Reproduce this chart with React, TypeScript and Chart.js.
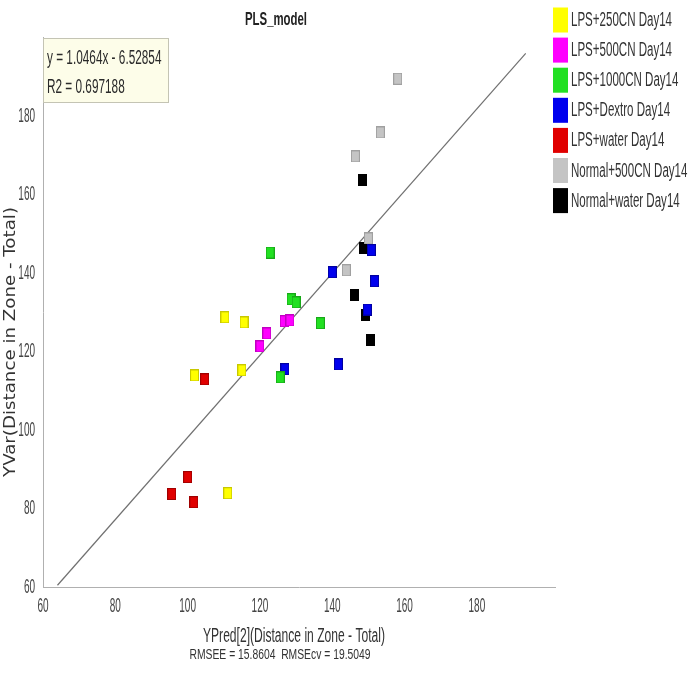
import React, { useEffect, useRef } from "react";
import { Chart, registerables } from "chart.js";

Chart.register(...registerables);

const groupNames = [
  "LPS+250CN Day14",
  "LPS+500CN Day14",
  "LPS+1000CN Day14",
  "LPS+Dextro Day14",
  "LPS+water Day14",
  "Normal+500CN Day14",
  "Normal+water Day14",
];
const groupColors = ["#ffff00", "#ff00ff", "#22e022", "#0000ee", "#e00000", "#c4c4c4", "#000000"];
const groupBorders = ["#c8c800", "#c000c0", "#18a818", "#0000a0", "#a00000", "#a0a0a0", "#000000"];

const predLPS250 = [110.3, 115.6, 101.9, 115.0, 111.1];
const yvarLPS250 = [128.7, 127.4, 113.9, 115.2, 83.9];
const predLPS500 = [121.9, 120.0, 126.7, 128.3];
const yvarLPS500 = [124.6, 121.3, 127.7, 127.9];
const predLPS1000 = [122.8, 128.6, 130.0, 136.7, 125.6];
const yvarLPS1000 = [145.2, 133.3, 132.5, 127.2, 113.4];
const predDextro = [140.0, 150.8, 151.7, 149.7, 141.7, 126.9];
const yvarDextro = [140.2, 145.8, 137.9, 130.7, 116.7, 115.5];
const predWater = [104.7, 100.0, 95.6, 101.7];
const yvarWater = [112.9, 88.0, 83.7, 81.6];
const predNorm500 = [158.1, 153.3, 146.4, 150.0, 143.9];
const yvarNorm500 = [189.5, 175.8, 169.7, 148.8, 140.7];
const predNormWater = [148.3, 148.6, 146.1, 149.2, 150.6];
const yvarNormWater = [163.8, 146.3, 134.3, 129.2, 122.9];

const groupPred = [predLPS250, predLPS500, predLPS1000, predDextro, predWater, predNorm500, predNormWater];
const groupYvar = [yvarLPS250, yvarLPS500, yvarLPS1000, yvarDextro, yvarWater, yvarNorm500, yvarNormWater];

const slope = 1.0464;
const intercept = -6.52854;
const fitRange = [64, 193.5];

const majorTicks = [60, 80, 100, 120, 140, 160, 180];

const titleText = "PLS_model";
const equationLines = ["y = 1.0464x - 6.52854", "R2 = 0.697188"];
const xTitle = "YPred[2](Distance in Zone - Total)";
const yTitle = "YVar(Distance in Zone - Total)";
const footText = "RMSEE = 15.8604  RMSEcv = 19.5049";

const SANS = '"Liberation Sans", Arial, sans-serif';

function drawText(
  ctx: CanvasRenderingContext2D,
  text: string,
  x: number,
  y: number,
  font: string,
  opts: { scaleX?: number; width?: number; align?: "left" | "center" | "right"; color?: string }
) {
  ctx.save();
  ctx.font = font;
  ctx.fillStyle = opts.color || "#333";
  ctx.textBaseline = "middle";
  ctx.textAlign = "left";
  const w = ctx.measureText(text).width;
  const sx = opts.width ? opts.width / w : opts.scaleX || 1;
  const drawnW = w * sx;
  let left = x;
  if (opts.align === "center") left = x - drawnW / 2;
  else if (opts.align === "right") left = x - drawnW;
  ctx.translate(left, y);
  ctx.scale(sx, 1);
  ctx.fillText(text, 0, 0);
  ctx.restore();
}

function makeMarker(fill: string, border: string) {
  const c = document.createElement("canvas");
  c.width = 9;
  c.height = 12;
  const g = c.getContext("2d")!;
  g.fillStyle = border;
  g.fillRect(0, 0, 9, 12);
  g.fillStyle = fill;
  g.fillRect(1, 1, 7, 10);
  return c;
}

const textPlugin = {
  id: "textPlugin",
  afterDraw(chart: any) {
    const ctx: CanvasRenderingContext2D = chart.ctx;
    const xs = chart.scales.x;
    const ys = chart.scales.y;
    ctx.save();
    // tick labels
    majorTicks.forEach((v) => {
      drawText(ctx, String(v), xs.getPixelForValue(v), 606, "20px " + SANS, { scaleX: 0.5, align: "center", color: "#444" });
      drawText(ctx, String(v), 35, ys.getPixelForValue(v), "20px " + SANS, { scaleX: 0.5, align: "right", color: "#444" });
    });
    // title
    drawText(ctx, titleText, 276, 20, "bold 18px " + SANS, { width: 62, align: "center", color: "#222" });
    // equation box
    ctx.fillStyle = "#fdfde9";
    ctx.fillRect(43, 38, 125, 64);
    ctx.strokeStyle = "#c4c4b4";
    ctx.lineWidth = 1;
    ctx.strokeRect(43.5, 38.5, 125, 64);
    drawText(ctx, equationLines[0], 47, 58, "20px " + SANS, { scaleX: 0.59, color: "#2a2a2a" });
    drawText(ctx, equationLines[1], 47, 87, "20px " + SANS, { scaleX: 0.59, color: "#2a2a2a" });
    // legend
    groupNames.forEach((name, i) => {
      const y0 = 7.5 + i * 30.1;
      ctx.fillStyle = groupColors[i];
      ctx.fillRect(553, y0, 15, 25);
      drawText(ctx, name, 571, y0 + 13, "20px " + SANS, { scaleX: 0.577, color: "#333" });
    });
    // axis titles
    drawText(ctx, xTitle, 294, 636, "20px " + SANS, { width: 182, align: "center", color: "#333" });
    drawText(ctx, footText, 280, 655, "14px " + SANS, { width: 181, align: "center", color: "#333" });
    ctx.save();
    ctx.translate(11, 342);
    ctx.rotate(-Math.PI / 2);
    drawText(ctx, yTitle, 0, 0, '16px "DejaVu Sans", Verdana, sans-serif', { width: 270, align: "center", color: "#333" });
    ctx.restore();
    ctx.restore();
  },
};

export default function App() {
  const ref = useRef<HTMLCanvasElement>(null);
  useEffect(() => {
    document.body.style.margin = "0";
    const datasets: any[] = groupNames.map((name, i) => ({
      type: "scatter",
      label: name,
      data: groupPred[i].map((x, j) => ({ x, y: groupYvar[i][j] })),
      pointStyle: makeMarker(groupColors[i], groupBorders[i]),
      backgroundColor: groupColors[i],
      borderColor: groupBorders[i],
      order: 1,
    }));
    datasets.push({
      type: "line",
      label: "fit",
      data: fitRange.map((x) => ({ x, y: slope * x + intercept })),
      borderColor: "#707070",
      borderWidth: 1.2,
      pointRadius: 0,
      fill: false,
      order: 2,
    });
    const chart = new Chart(ref.current!, {
      type: "scatter",
      data: { datasets },
      options: {
        animation: false,
        responsive: false,
        layout: { padding: { top: 37.5, right: 143, left: 0, bottom: 0 } },
        plugins: { legend: { display: false }, tooltip: { enabled: false }, title: { display: false } },
        scales: {
          x: {
            type: "linear",
            min: 60,
            max: 201.6,
            grid: { display: false, drawTicks: true, tickLength: 4, tickColor: "#b0b0b0" },
            border: { color: "#b0b0b0" },
            ticks: {
              stepSize: 5,
              autoSkip: false,
              maxRotation: 0,
              callback: () => "",
            },
            afterFit: (s: any) => {
              s.height = 87;
            },
          },
          y: {
            type: "linear",
            min: 60,
            max: 200,
            grid: { display: false, drawTicks: true, tickLength: 4, tickColor: "#b0b0b0" },
            border: { color: "#b0b0b0" },
            ticks: {
              stepSize: 5,
              autoSkip: false,
              callback: () => "",
            },
            afterFit: (s: any) => {
              s.width = 43;
            },
          },
        },
      },
      plugins: [textPlugin],
    } as any);
    return () => chart.destroy();
  }, []);
  return <canvas ref={ref} width={698} height={674} style={{ display: "block" }} />;
}
